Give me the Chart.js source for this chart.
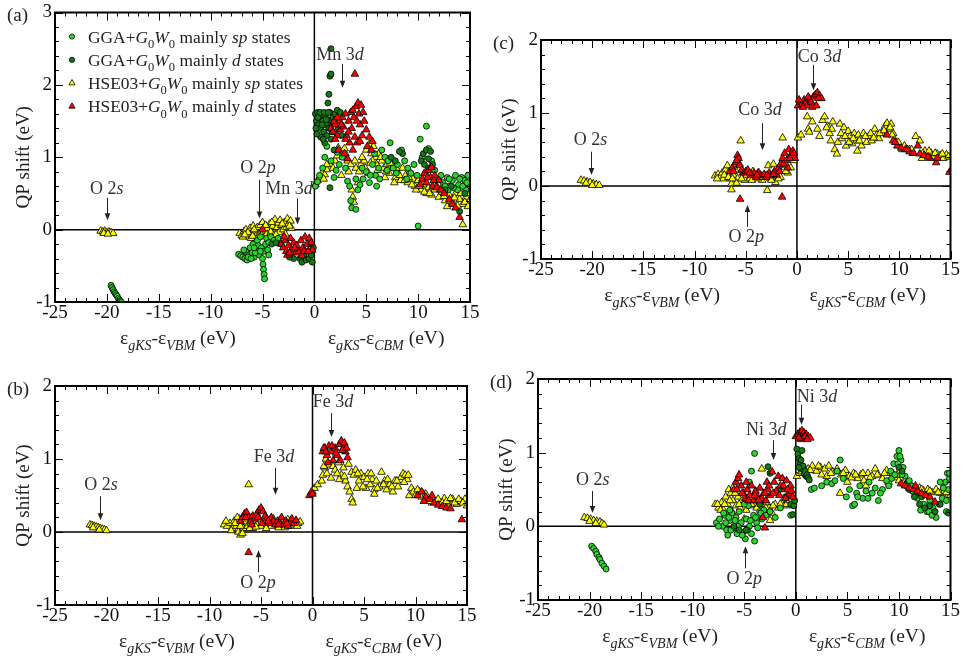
<!DOCTYPE html>
<html>
<head>
<meta charset="utf-8">
<script src="https://cdn.jsdelivr.net/npm/chart.js@4.4.0/dist/chart.umd.min.js"></script>
<style>
  html, body { margin: 0; padding: 0; background: #fff; }
  #wrap { position: relative; width: 962px; height: 661px; overflow: hidden; }
  #wrap canvas { position: absolute; left: 0; top: 0; }
</style>
</head>
<body>
<div id="wrap">
  <canvas id="pa" width="962" height="661"></canvas>
  <canvas id="pb" width="962" height="661"></canvas>
  <canvas id="pc" width="962" height="661"></canvas>
  <canvas id="pd" width="962" height="661"></canvas>
</div>
<script>
// ---- axis ticks (shared by all panels) ----
const xTicks = [-25, -20, -15, -10, -5, 0, 5, 10, 15];
const yTicksA = [-1, 0, 1, 2, 3];
const yTicksBCD = [-1, 0, 1, 2];

// ---- (a) MnO ----
const aGgaSp = [
  [-19.6,-0.77],[-19.5,-0.8],[-19.4,-0.83],[-19.3,-0.86],[-19.2,-0.88],[-19.1,-0.9],[-19.0,-0.92],[-18.9,-0.95],[-18.8,-0.97],[-18.7,-0.99],[-18.6,-1.0],
  [-7.3,-0.34],[-7.1,-0.36],[-6.9,-0.38],[-6.7,-0.4],[-6.5,-0.42],[-6.6,-0.3],[-6.3,-0.35],[-6.2,-0.25],[-6.0,-0.32],[-5.9,-0.2],[-5.8,-0.38],[-5.6,-0.28],
  [-5.5,-0.15],[-5.4,-0.22],[-5.3,-0.35],[-5.2,-0.1],[-5.1,-0.25],[-5.0,-0.4],[-4.95,-0.48],[-4.9,-0.55],[-4.85,-0.62],[-4.8,-0.68],[-4.9,-0.3],[-4.7,-0.2],
  [-4.6,-0.12],[-4.4,-0.18],[-4.2,-0.1],[-3.9,-0.15],[-3.5,-0.12],[-3.2,-0.2],[-6.8,-0.28],[-4.5,-0.28],
  [-6.4,-0.38],[-5.7,-0.32],[-5.2,-0.3],[-4.4,-0.35],[-5.8,-0.25],[-6.1,-0.4],
  [0.1,0.6],[0.3,0.66],[0.8,0.85],[1.0,1.0],[1.2,1.15],[1.6,0.95],[1.9,0.72],[2.1,0.82],[2.4,0.9],[2.7,1.0],[3.0,0.85],[3.2,0.67],[3.4,0.6],[3.5,0.4],
  [3.6,0.3],[4.0,0.28],[4.2,0.55],[4.0,0.7],[4.4,0.62],[4.7,0.7],[5.0,0.8],[5.3,0.65],[5.6,0.9],[5.9,0.75],[6.2,0.85],[6.5,1.1],[6.8,1.0],[7.1,0.95],
  [7.3,1.2],[7.6,0.85],[8.0,0.9],[8.4,1.1],[8.7,0.95],[9.0,0.85],[9.3,0.78],[9.6,0.9],[10.0,0.05],[10.2,1.25],[10.4,1.0],[10.8,1.43],[11.0,1.12],[11.3,0.95],
  [11.6,0.82],[12.0,0.7],[12.4,0.65],[12.8,0.72],[13.0,0.6],[13.3,0.68],[13.6,0.75],[13.9,0.62],[14.2,0.72],[14.5,0.68],[14.8,0.75],[14.9,0.6],[14.6,0.55],
  [13.8,0.55],[12.9,0.55],[2.2,1.07],[0.5,0.75],[6.0,0.6],[4.6,0.85],[5.8,1.05],
  [13.0,0.7],[13.4,0.58],[14.0,0.7],[14.3,0.6],[14.7,0.65],[12.6,0.6],[12.2,0.75],[7.0,0.82],[7.9,0.78],[8.9,0.7],[9.9,0.75],[6.3,0.7],[5.4,0.75]
];
const aGgaD = [
  [-4.1,-0.2],[-3.7,-0.18],[-1.6,-0.3],[-1.4,-0.4],[-1.2,-0.45],[-1.0,-0.35],[-0.8,-0.42],[-0.6,-0.3],[-0.5,-0.4],[-0.3,-0.35],[-0.2,-0.45],[-0.4,-0.2],
  [-0.1,-0.25],[-2.0,-0.4],[-2.4,-0.38],
  [0.1,1.6],[0.2,1.5],[0.3,1.62],[0.4,1.45],[0.5,1.55],[0.6,1.4],[0.7,1.6],[0.8,1.5],[0.9,1.35],[1.0,1.58],[1.1,1.45],[1.2,1.3],[1.3,1.52],[1.4,1.4],
  [1.5,1.62],[1.6,1.25],[1.7,1.48],[1.8,1.55],[2.0,1.6],[2.2,1.65],[2.4,1.5],[2.5,1.62],[1.0,1.2],[0.6,1.28],[1.3,1.75],[1.4,1.87],[1.5,2.12],[1.6,2.15],
  [1.6,2.5],[1.5,0.58],[1.9,1.1],[2.6,1.3],
  [0.15,1.4],[0.35,1.55],[0.55,1.62],[0.75,1.45],[0.95,1.62],[1.15,1.52],[1.35,1.62],[1.75,1.35],[2.1,1.5],[2.3,1.4],[0.25,1.32],[0.85,1.25],
  [10.3,0.95],[10.5,1.05],[10.6,0.9],[10.8,1.1],[11.0,0.98],[11.2,1.08],[11.0,0.85],[10.7,0.78],[11.4,0.9],[14.0,0.25],[12.6,0.55],[13.2,0.6],[14.5,0.5],
  [8.5,1.05],[7.4,1.0],[7.8,0.95],[8.2,1.08]
];
const aHseSp = [
  [-20.6,-0.02],[-20.4,-0.03],[-20.2,-0.02],[-20.0,-0.04],[-19.8,-0.03],[-19.6,-0.04],[-19.4,-0.05],[-20.3,-0.05],[-19.9,-0.06],
  [-7.2,-0.05],[-7.0,-0.08],[-6.8,-0.03],[-6.6,0.0],[-6.5,-0.06],[-6.3,-0.1],[-6.2,0.02],[-6.0,-0.04],[-5.9,0.05],[-5.7,-0.02],[-5.6,-0.08],[-5.5,0.03],
  [-5.3,-0.05],[-5.2,0.06],[-5.0,0.1],[-4.9,-0.02],[-4.8,0.04],[-4.6,-0.06],[-4.5,0.02],[-4.3,0.08],[-4.2,-0.03],[-4.0,0.05],[-3.9,-0.08],[-3.8,0.14],
  [-3.6,0.03],[-3.5,0.09],[-3.4,-0.04],[-3.3,0.13],[-3.2,0.06],[-3.0,0.0],[-2.9,0.1],[-2.7,0.03],[-2.6,0.15],[-2.5,0.08],[-2.3,0.12],[-2.2,0.02],
  [-6.1,-0.12],[-5.4,-0.1],[-4.4,-0.1],[-3.7,-0.07],[-2.8,-0.06],
  [-6.9,-0.1],[-6.4,-0.04],[-5.8,0.0],[-5.1,-0.08],[-4.7,0.06],[-4.1,0.1],[-3.1,0.08],[-2.4,0.05],[-6.7,-0.07],[-5.95,-0.09],
  [0.1,0.62],[0.3,0.68],[0.5,0.72],[0.8,0.8],[1.0,0.76],[1.2,0.83],[1.5,0.9],[1.8,0.85],[2.0,0.95],[2.2,1.02],[2.5,1.08],[2.3,1.13],[2.8,1.0],[3.0,1.05],
  [3.2,0.95],[3.5,0.9],[3.7,0.45],[3.8,0.38],[3.6,0.55],[4.0,0.85],[4.3,0.8],[4.5,0.9],[4.8,0.95],[5.0,1.1],[5.3,1.18],[5.5,1.05],[5.7,1.15],[5.9,1.0],
  [6.0,0.9],[6.2,1.05],[6.5,0.95],[6.7,0.85],[7.0,0.9],[7.2,0.78],[7.5,0.85],[7.8,0.72],[8.0,0.8],[8.3,0.68],[8.5,0.85],[8.8,0.75],[9.0,0.65],[9.2,0.8],
  [9.5,0.7],[9.7,0.6],[10.0,0.68],[10.3,0.55],[10.5,0.62],[10.8,0.5],[11.0,0.58],[11.3,0.48],[11.6,0.55],[12.0,0.45],[12.3,0.52],[12.6,0.4],[13.0,0.48],
  [13.3,0.38],[13.6,0.5],[14.0,0.42],[14.3,0.35],[14.6,0.45],[14.9,0.38],[14.3,0.07],[12.8,0.32],[11.8,0.6],[6.8,0.72],[5.2,0.78],[4.2,0.65],[3.3,0.8],
  [2.6,0.75],[1.2,0.9],[0.9,0.7],[7.7,0.65],[9.8,0.55],[13.8,0.33],[14.7,0.5],
  [5.6,0.95],[6.1,0.82],[6.4,1.0],[6.9,0.8],[7.3,0.92],[7.9,0.85],[8.2,0.75],[8.7,0.68],[9.1,0.72],[9.4,0.62],[10.1,0.6],[10.6,0.52],[11.1,0.5],[11.5,0.62],
  [12.1,0.55],[12.5,0.46],[13.1,0.4],[13.5,0.44],[14.1,0.5],[14.5,0.38],[14.8,0.32],[4.6,1.0],[4.9,0.85],[5.4,0.92],[3.9,0.95],[2.9,1.12]
];
const aHseD = [
  [-3.2,-0.2],[-3.0,-0.25],[-2.8,-0.15],[-2.7,-0.3],[-2.5,-0.22],[-2.3,-0.12],[-2.2,-0.28],[-2.0,-0.18],[-1.8,-0.32],[-1.7,-0.22],[-1.5,-0.3],[-1.3,-0.15],
  [-1.1,-0.25],[-0.9,-0.1],[-0.7,-0.2],[-0.5,-0.12],[-0.3,-0.18],[-0.2,-0.28],[-2.6,-0.35],[-1.2,-0.36],[-5.0,0.0],
  [-2.9,-0.1],[-1.9,-0.25],[-1.0,-0.3],[-0.6,-0.3],[-2.4,-0.32],
  [1.6,1.4],[1.8,1.35],[2.0,1.45],[2.2,1.3],[2.4,1.5],[2.5,1.38],[2.7,1.55],[2.8,1.42],[3.0,1.6],[3.1,1.3],[3.3,1.5],[3.4,1.2],[3.5,1.62],[3.6,1.4],
  [3.8,1.55],[3.9,1.28],[4.0,1.7],[4.2,1.75],[4.3,1.6],[4.4,1.45],[4.5,1.72],[4.6,1.3],[4.8,1.5],[5.0,1.38],[5.1,1.15],[5.3,1.28],[5.5,1.1],[2.3,1.1],
  [2.9,1.05],[3.2,0.98],[3.7,1.1],[4.1,1.2],[2.0,1.25],[3.9,2.15],[5.6,1.22],
  [1.9,1.5],[2.6,1.45],[3.3,1.35],[3.7,1.65],[4.1,1.5],[4.7,1.62],[2.2,1.55],[3.0,1.25],[4.4,1.22],
  [10.2,0.62],[10.4,0.7],[10.6,0.78],[10.8,0.65],[11.0,0.82],[11.2,0.72],[11.4,0.6],[11.6,0.75],[11.8,0.58],[12.0,0.68],[12.2,0.55],[12.5,0.5],[13.0,0.42],
  [13.3,0.35],[13.6,0.3],[14.0,0.17],[11.3,0.86],[10.9,0.72],[11.5,0.68]
];

// ---- (b) FeO ----
const bHseSp = [
  [-21.6,0.1],[-21.4,0.09],[-21.2,0.08],[-21.0,0.07],[-20.8,0.06],[-20.6,0.05],[-20.4,0.04],[-20.2,0.03],[-20.0,0.02],[-21.3,0.06],[-20.7,0.03],
  [-8.6,0.1],[-8.3,0.08],[-8.0,0.12],[-7.8,0.05],[-7.6,0.15],[-7.4,0.08],[-7.2,0.0],[-7.0,-0.04],[-7.1,0.18],[-6.9,0.1],[-6.7,0.05],[-6.5,0.14],[-6.3,0.08],
  [-6.2,0.65],[-6.0,0.12],[-5.8,0.05],[-5.6,0.15],[-5.4,0.1],[-5.2,0.18],[-5.0,0.08],[-4.8,0.12],[-4.6,0.16],[-4.4,0.1],[-4.2,0.15],[-4.0,0.08],[-3.8,0.18],
  [-3.6,0.12],[-3.4,0.1],[-3.2,0.16],[-3.0,0.09],[-2.8,0.14],[-2.6,0.1],[-2.4,0.17],[-2.2,0.08],[-2.0,0.13],[-1.8,0.1],[-1.6,0.15],[-1.4,0.12],[-1.2,0.14],
  [-6.8,-0.02],[-7.3,0.2],[-5.9,0.2],
  [-8.4,0.15],[-7.9,0.02],[-7.5,0.12],[-6.6,0.18],[-6.1,0.05],[-5.5,0.07],[-4.5,0.05],[-3.9,0.12],[-3.3,0.06],[-2.7,0.06],[-2.1,0.16],[-1.5,0.08],[-7.0,0.08],
  [0.0,0.55],[0.2,0.6],[0.5,0.65],[0.9,0.7],[1.0,0.78],[1.2,0.88],[1.4,0.8],[1.6,0.92],[1.8,0.74],[2.0,0.9],[2.2,0.85],[2.5,0.95],[2.8,0.78],[3.0,0.88],
  [3.2,0.7],[3.4,0.62],[3.6,0.55],[3.8,0.45],[3.9,0.4],[3.5,0.93],[3.8,0.82],[4.0,0.78],[4.2,0.85],[4.5,0.7],[4.7,0.8],[5.0,0.75],[5.2,0.6],[5.4,0.8],
  [5.6,0.65],[5.8,0.72],[6.0,0.58],[6.2,0.7],[6.5,0.62],[6.7,0.82],[7.0,0.7],[7.2,0.58],[7.5,0.65],[7.8,0.55],[8.0,0.7],[8.3,0.62],[8.6,0.75],[8.8,0.8],
  [9.0,0.78],[9.2,0.72],[9.4,0.5],[9.6,0.6],[9.8,0.55],[10.0,0.5],[10.4,0.55],[10.8,0.52],[11.2,0.45],[11.6,0.4],[12.0,0.42],[12.4,0.38],[12.8,0.46],
  [13.2,0.4],[13.6,0.45],[14.0,0.38],[14.4,0.42],[14.8,0.45],[15.0,0.36],[6.0,0.52],[4.3,0.6],[2.6,0.72],[1.3,1.0],
  [4.4,0.8],[4.9,0.62],[5.3,0.72],[5.7,0.8],[6.3,0.6],[6.9,0.65],[7.3,0.72],[7.7,0.62],[8.2,0.7],[8.9,0.68],[9.3,0.78],[10.2,0.58],[10.6,0.48],[11.0,0.52],
  [11.4,0.42],[12.2,0.45],[12.6,0.4],[13.0,0.42],[13.4,0.46],[13.8,0.4],[14.2,0.45],[14.6,0.4],[1.1,0.9],[2.4,0.8],[3.1,0.76]
];
const bHseD = [
  [-7.0,0.15],[-6.8,0.2],[-6.6,0.25],[-6.4,0.27],[-6.2,0.2],[-6.0,0.15],[-5.8,0.22],[-5.6,0.18],[-5.4,0.25],[-5.2,0.3],[-5.0,0.33],[-4.8,0.28],[-4.6,0.22],
  [-4.4,0.18],[-4.2,0.12],[-4.0,0.2],[-3.8,0.15],[-3.6,0.1],[-3.4,0.15],[-3.2,0.12],[-3.0,0.2],[-2.8,0.1],[-2.6,0.15],[-2.4,0.08],[-2.2,0.12],[-2.0,0.18],
  [-1.8,0.12],[-1.6,0.16],[-6.2,-0.28],[-5.9,0.1],[-4.9,0.12],[-6.5,0.2],[-5.3,0.2],[-4.3,0.15],[-3.3,0.1],[-2.5,0.12],
  [-0.3,0.5],[-0.1,0.55],[0.0,0.52],[1.0,1.1],[1.2,1.15],[1.4,1.05],[1.6,1.18],[1.8,1.1],[2.0,0.98],[2.2,1.15],[2.4,1.05],[2.6,1.2],[2.8,1.25],[3.0,1.15],
  [3.2,1.1],[3.4,1.02],[2.7,0.98],[1.5,0.95],[3.1,1.22],[1.1,1.15],[1.3,1.1],[1.9,1.18],[2.3,1.08],[2.9,1.12],[3.3,1.15],
  [10.2,0.5],[10.6,0.55],[11.0,0.48],[11.4,0.45],[11.8,0.4],[12.2,0.37],[12.6,0.35],[13.0,0.33],[13.4,0.32],[14.5,0.17],[10.8,0.42],[11.6,0.5]
];

// ---- (c) CoO ----
const cHseSp = [
  [-21.1,0.08],[-20.8,0.07],[-20.5,0.06],[-20.2,0.05],[-19.9,0.03],[-19.6,0.02],[-19.3,0.01],[-20.6,0.04],[-20.0,0.01],
  [-8.0,0.14],[-7.7,0.16],[-7.5,0.12],[-7.3,0.18],[-7.0,0.22],[-6.8,0.28],[-6.6,0.2],[-6.5,0.1],[-6.4,0.03],[-6.4,-0.05],[-6.2,0.15],[-6.0,0.22],[-5.8,0.1],
  [-5.6,0.3],[-5.5,0.62],[-5.3,0.18],[-5.1,0.08],[-4.9,0.15],[-4.6,0.1],[-4.3,0.2],[-4.0,0.12],[-3.7,0.18],[-3.4,0.08],[-3.1,0.14],[-2.9,-0.06],[-2.8,0.28],
  [-2.6,0.1],[-2.3,0.3],[-2.1,0.05],[-1.9,0.2],[-1.6,0.12],[-1.4,0.66],[-1.2,0.28],[-0.9,0.18],[-0.6,0.25],[-0.3,0.35],[-7.2,0.1],[-5.9,0.04],
  [-7.8,0.1],[-7.1,0.15],[-6.7,0.12],[-6.3,0.1],[-5.4,0.1],[-4.4,0.08],[-3.8,0.1],[-3.3,0.12],[-2.5,0.08],[-1.8,0.1],[-1.1,0.2],
  [0.1,0.66],[0.4,0.7],[1.0,0.95],[1.1,0.78],[1.2,0.74],[1.5,0.88],[2.0,0.78],[2.5,0.9],[2.7,0.95],[3.0,0.82],[3.2,0.72],[3.5,0.88],[3.7,0.5],[3.9,0.44],
  [4.0,0.6],[4.2,0.85],[4.4,0.65],[4.6,0.8],[4.8,0.55],[5.0,0.75],[5.2,0.68],[5.4,0.58],[5.6,0.72],[5.8,0.62],[6.0,0.7],[6.3,0.55],[6.5,0.72],[6.8,0.6],
  [7.0,0.68],[7.3,0.62],[7.6,0.78],[7.8,0.7],[8.0,0.65],[8.3,0.72],[8.6,0.82],[8.8,0.86],[9.0,0.78],[9.2,0.85],[9.4,0.72],[9.7,0.6],[10.0,0.55],[10.3,0.5],
  [10.6,0.52],[11.0,0.5],[11.3,0.45],[11.6,0.68],[12.0,0.62],[12.2,0.38],[12.5,0.48],[12.8,0.42],[13.1,0.45],[13.4,0.4],[13.7,0.44],[14.0,0.42],[14.3,0.38],
  [14.6,0.43],[15.0,0.4],[2.2,0.68],[5.9,0.48],[3.3,0.62],
  [4.3,0.72],[4.7,0.68],[5.1,0.6],[5.5,0.65],[6.1,0.62],[6.7,0.68],[7.2,0.72],[7.5,0.66],[8.1,0.72],[8.5,0.76],[9.1,0.8],[9.3,0.7],[9.9,0.6],[10.5,0.55],
  [11.2,0.5],[12.3,0.45],[12.9,0.48],[13.5,0.45],[14.2,0.44],[14.8,0.4],[3.4,0.78],[2.9,0.8]
];
const cHseD = [
  [-6.5,0.2],[-6.3,0.25],[-6.0,0.32],[-5.8,0.42],[-5.7,0.38],[-5.6,0.28],[-5.4,0.22],[-5.2,0.18],[-5.0,0.2],[-4.8,0.22],[-4.5,0.15],[-4.2,0.18],[-4.0,0.12],
  [-3.8,0.18],[-3.5,0.14],[-3.2,0.16],[-3.0,0.12],[-2.7,0.18],[-2.5,0.14],[-2.2,0.2],[-2.0,0.15],[-1.8,0.25],[-1.6,0.3],[-1.4,0.38],[-1.2,0.45],[-1.0,0.35],
  [-0.8,0.5],[-0.6,0.42],[-0.4,0.48],[-0.2,0.38],[-5.55,-0.18],[-1.45,-0.15],[-0.9,0.25],[-1.7,0.2],
  [-6.2,0.2],[-5.9,0.35],[-4.6,0.18],[-3.9,0.15],[-2.9,0.15],[-2.3,0.16],[-1.3,0.3],[-0.7,0.38],[-0.3,0.45],
  [0.1,1.1],[0.3,1.15],[0.5,1.12],[0.7,1.18],[0.9,1.15],[1.0,1.1],[1.2,1.2],[1.4,1.15],[1.5,1.08],[1.6,1.22],[1.8,1.25],[2.0,1.28],[2.2,1.24],[2.4,1.2],
  [1.9,1.1],[0.2,1.18],[0.6,1.08],[1.1,1.22],[2.1,1.2],
  [8.8,0.7],[9.4,0.62],[9.8,0.55],[10.2,0.52],[10.6,0.5],[11.0,0.47],[11.4,0.45],[11.8,0.55],[12.0,0.44],[12.4,0.42],[13.0,0.38],[13.6,0.32],[13.7,0.38],
  [14.9,0.19],[9.6,0.6],[10.8,0.5],[12.8,0.4]
];

// ---- (d) NiO ----
const dGgaSp = [
  [-19.8,-0.27],[-19.6,-0.3],[-19.4,-0.34],[-19.3,-0.38],[-19.1,-0.42],[-19.0,-0.45],[-18.8,-0.5],[-18.6,-0.54],[-18.4,-0.58],
  [-7.7,0.05],[-7.4,0.1],[-7.1,0.0],[-6.9,0.15],[-6.7,-0.05],[-6.6,-0.12],[-6.4,0.08],[-6.2,0.18],[-6.0,-0.02],[-5.8,0.12],[-5.7,-0.1],[-5.5,0.2],[-5.3,0.05],
  [-5.1,-0.08],[-4.9,-0.17],[-4.8,0.1],[-4.6,0.28],[-4.5,0.0],[-4.3,-0.1],[-4.1,0.15],[-4.0,0.99],[-4.3,0.75],[-4.0,-0.2],[-3.8,0.05],[-3.6,0.35],[-3.5,0.2],
  [-3.3,0.1],[-3.1,0.22],[-2.9,0.15],[-2.5,0.2],[-2.0,0.12],[-1.5,0.25],[-0.5,0.15],[-4.5,0.6],[-5.0,0.3],[-6.4,0.22],[-7.0,0.18],
  [-7.5,0.0],[-6.8,0.05],[-6.3,-0.05],[-5.9,0.08],[-5.6,0.0],[-5.2,-0.12],[-4.7,-0.05],[-4.4,0.08],[-3.9,0.12],[-3.7,-0.02],[-3.4,0.18],[-6.5,0.12],
  [1.5,0.5],[1.8,0.52],[2.5,0.55],[3.0,0.6],[3.5,0.58],[4.0,0.75],[4.3,0.9],[4.6,0.65],[4.9,0.4],[5.2,0.5],[5.5,0.28],[5.7,0.3],[5.9,0.45],[6.2,0.55],
  [6.5,0.38],[6.8,0.48],[7.1,0.6],[7.4,0.45],[7.7,0.52],[8.0,0.35],[8.4,0.5],[8.8,0.62],[9.2,0.75],[9.5,0.85],[9.8,0.95],[10.0,1.03],[10.2,0.9],[10.4,0.8],
  [10.6,0.68],[10.9,0.6],[11.2,0.55],[11.5,0.45],[11.8,0.38],[12.1,0.22],[12.4,0.3],[12.7,0.2],[13.0,0.35],[13.3,0.25],[13.6,0.12],[13.9,0.3],[14.2,0.38],
  [14.5,0.6],[14.7,0.72],[14.9,0.65],[14.8,0.5],[14.6,0.2],[14.0,0.6],[9.0,0.55],[3.8,0.62],
  [9.3,0.65],[9.6,0.7],[9.9,0.85],[10.1,0.95],[10.3,0.7],[10.7,0.55],[11.0,0.62],[11.3,0.48],[12.0,0.45],[12.9,0.2],[13.2,0.15],[14.3,0.52],[14.6,0.35],
  [14.9,0.72],[6.0,0.4],[7.0,0.38],[8.2,0.45]
];
const dGgaD = [
  [-2.7,0.81],[-2.5,0.72],[-1.6,0.5],[-1.0,0.4],[-0.5,0.3],[-0.2,0.28],[-0.1,0.35],[-3.5,0.3],[-0.3,0.16],[-6.0,0.0],[-5.5,-0.05],[-4.8,-0.05],
  [0.1,1.05],[0.2,0.98],[0.3,0.92],[0.4,0.85],[0.5,0.9],[0.6,0.78],[0.7,0.82],[0.8,0.72],[0.9,0.75],[1.0,0.68],[1.1,0.7],[1.2,0.66],[0.6,1.03],[0.3,0.8],
  [1.3,0.63],[10.0,0.8],[10.3,0.75],[11.0,0.5],[11.5,0.4],[12.0,0.3],[12.5,0.25],[13.0,0.28],[13.5,0.2],[14.0,0.3],[14.8,0.18],[12.2,0.4]
];
const dHseSp = [
  [-20.5,0.12],[-20.2,0.11],[-19.9,0.1],[-19.6,0.08],[-19.3,0.07],[-19.0,0.06],[-18.8,0.04],[-18.6,0.02],[-20.0,0.07],[-19.4,0.04],
  [-7.8,0.3],[-7.5,0.25],[-7.2,0.32],[-7.0,0.22],[-6.8,0.4],[-6.6,0.3],[-6.5,0.5],[-6.3,0.45],[-6.1,0.35],[-6.0,0.55],[-5.8,0.28],[-5.6,0.4],[-5.4,0.25],
  [-5.2,0.35],[-5.0,0.3],[-4.8,0.22],[-4.6,0.35],[-4.4,0.28],[-4.2,0.4],[-4.0,0.3],[-3.8,0.25],[-3.6,0.35],[-3.3,0.78],[-3.2,0.28],[-3.0,0.2],[-2.8,0.32],
  [-2.6,0.25],[-2.3,0.18],[-2.0,0.3],[-1.7,0.25],[-1.4,0.32],[-1.1,0.28],[-0.8,0.35],[-0.5,0.3],[-0.3,0.28],[-5.0,0.1],[-6.2,0.2],[-2.5,0.08],
  [-7.6,0.3],[-7.3,0.22],[-6.9,0.3],[-6.4,0.35],[-5.9,0.45],[-5.5,0.3],[-4.9,0.35],[-4.3,0.3],[-3.9,0.35],[-3.4,0.3],[-2.9,0.25],[-2.2,0.28],[-1.5,0.3],
  [-0.9,0.3],[-0.6,0.35],
  [0.1,0.68],[0.4,0.72],[0.8,0.8],[1.2,0.78],[1.6,0.82],[2.0,0.75],[2.4,0.8],[2.8,0.78],[3.2,0.82],[3.6,0.74],[4.0,0.78],[4.3,0.45],[4.4,0.7],[4.8,0.76],
  [5.2,0.68],[5.6,0.72],[6.0,0.65],[6.3,0.7],[6.6,0.62],[7.0,0.72],[7.4,0.68],[7.7,0.78],[8.0,0.7],[8.4,0.65],[8.8,0.76],[9.2,0.72],[9.6,0.66],[10.0,0.62],
  [10.4,0.58],[10.8,0.6],[11.2,0.55],[11.6,0.5],[12.0,0.52],[12.4,0.48],[12.8,0.5],[13.2,0.46],[13.6,0.5],[14.0,0.45],[14.4,0.48],[14.8,0.44],[15.0,0.42],
  [5.0,0.6],[3.0,0.68],[9.0,0.6],[6.8,0.55],[2.5,0.7],[1.0,0.7],
  [0.6,0.74],[1.4,0.76],[2.2,0.82],[3.4,0.72],[4.6,0.72],[5.4,0.66],[5.8,0.7],[6.5,0.72],[7.2,0.66],[7.9,0.7],[8.6,0.72],[9.4,0.72],[9.8,0.7],[10.6,0.56],
  [11.4,0.52],[12.2,0.5],[13.0,0.48],[13.8,0.46],[14.6,0.46]
];
const dHseD = [
  [-6.0,0.5],[-5.8,0.6],[-5.6,0.65],[-5.5,0.7],[-5.3,0.55],[-5.1,0.45],[-4.9,0.38],[-4.7,0.5],[-4.5,0.42],[-4.3,0.55],[-4.1,0.35],[-3.9,0.48],[-3.7,0.4],
  [-3.5,0.52],[-3.3,0.38],[-3.1,0.45],[-2.9,0.35],[-2.7,0.5],[-2.5,0.42],[-2.3,0.74],[-2.1,0.6],[-1.9,0.48],[-1.7,0.68],[-1.5,0.55],[-1.3,0.65],[-1.1,0.5],
  [-0.9,0.62],[-0.7,0.45],[-0.5,0.55],[-0.3,0.4],[-3.2,0.12],[-3.0,-0.02],[-2.8,0.6],[-4.8,0.6],[-1.0,0.38],
  [-5.7,0.5],[-5.2,0.45],[-4.6,0.35],[-4.0,0.42],[-3.6,0.35],[-3.0,0.45],[-2.6,0.55],[-2.2,0.45],[-1.6,0.42],[-1.2,0.55],[-0.8,0.5],[-0.4,0.48],
  [0.0,1.22],[0.2,1.25],[0.4,1.28],[0.6,1.3],[0.8,1.27],[1.0,1.25],[1.2,1.22],[1.4,1.2],[0.5,1.18],[0.7,1.2],[0.3,1.2],[0.9,1.22],[1.1,1.18],
  [10.2,0.58],[10.6,0.55],[11.0,0.52],[11.4,0.5],[11.8,0.48],[12.2,0.45],[12.6,0.42],[13.0,0.4],[13.5,0.33],[11.6,0.55]
];

const FONT = '"Liberation Serif", "Times New Roman", serif';
const C_SP = '#2ad42a', C_D = '#137a13', C_YEL = '#ffff00', C_RED = '#ff0000';

// draw a run of text pieces: '' normal, 'i' italic, 'sub' subscript, 'subi' italic subscript
function rich(ctx, parts, x, y, size, align) {
  const runs = parts.map(([t, s]) => {
    const sub = s.indexOf('sub') === 0;
    const it = s === 'i' || s === 'subi';
    const sz = sub ? size * 0.72 : size;
    return { t, font: (it ? 'italic ' : '') + sz + 'px ' + FONT, dy: sub ? size * 0.3 : 0 };
  });
  let w = 0;
  runs.forEach(r => { ctx.font = r.font; r.w = ctx.measureText(r.t).width; w += r.w; });
  let cx = align === 'center' ? x - w / 2 : (align === 'right' ? x - w : x);
  ctx.textAlign = 'left';
  ctx.textBaseline = 'alphabetic';
  runs.forEach(r => { ctx.font = r.font; ctx.fillText(r.t, cx, y + r.dy); cx += r.w; });
}

const sub0 = [['G', 'i'], ['0', 'sub'], ['W', 'i'], ['0', 'sub']];
const legendRows = [
  { style: 'circle', color: C_SP, text: [['GGA+', '']].concat(sub0, [[' mainly ', ''], ['sp', 'i'], [' states', '']]) },
  { style: 'circle', color: C_D, text: [['GGA+', '']].concat(sub0, [[' mainly ', ''], ['d', 'i'], [' states', '']]) },
  { style: 'triangle', color: C_YEL, text: [['HSE03+', '']].concat(sub0, [[' mainly ', ''], ['sp', 'i'], [' states', '']]) },
  { style: 'triangle', color: C_RED, text: [['HSE03+', '']].concat(sub0, [[' mainly ', ''], ['d', 'i'], [' states', '']]) }
];

const panelDecor = {
  id: 'panel',
  beforeDatasetsDraw(chart) {
    const { ctx, chartArea: a, scales: { x, y } } = chart;
    const x0 = x.getPixelForValue(0), y0 = y.getPixelForValue(0);
    ctx.save();
    ctx.strokeStyle = '#000';
    ctx.lineWidth = 1.5;
    ctx.beginPath();
    ctx.moveTo(a.left, y0); ctx.lineTo(a.right, y0);
    ctx.moveTo(x0, a.top); ctx.lineTo(x0, a.bottom);
    ctx.stroke();
    ctx.restore();
  },
  afterDraw(chart, args, o) {
    const { ctx, chartArea: a, scales: { x, y } } = chart;
    ctx.save();
    // frame
    ctx.strokeStyle = '#000';
    ctx.lineWidth = 2;
    ctx.strokeRect(a.left, a.top, a.right - a.left, a.bottom - a.top);
    // inward ticks on all four sides
    ctx.lineWidth = 1;
    ctx.beginPath();
    for (let v = x.min; v <= x.max; v += 1) {
      const px = Math.round(x.getPixelForValue(v)) + 0.5;
      const len = v % 5 === 0 ? 8 : 4;
      ctx.moveTo(px, a.bottom); ctx.lineTo(px, a.bottom - len);
      ctx.moveTo(px, a.top); ctx.lineTo(px, a.top + len);
    }
    for (let k = 0; k <= (y.max - y.min) * 5; k++) {
      const v = y.min + k * 0.2;
      const py = Math.round(y.getPixelForValue(v)) + 0.5;
      const len = k % 5 === 0 ? 8 : 4;
      ctx.moveTo(a.left, py); ctx.lineTo(a.left + len, py);
      ctx.moveTo(a.right, py); ctx.lineTo(a.right - len, py);
    }
    ctx.stroke();

    // annotations with arrows
    ctx.fillStyle = '#333';
    ctx.strokeStyle = '#222';
    (o.notes || []).forEach(n => {
      rich(ctx, n.t, x.getPixelForValue(n.x), y.getPixelForValue(n.y) + 6, 18, 'center');
      const ax = Math.round(x.getPixelForValue(n.ax)) + 0.5;
      const p1 = y.getPixelForValue(n.y1), p2 = y.getPixelForValue(n.y2);
      const dir = p2 > p1 ? 1 : -1;
      ctx.beginPath();
      ctx.moveTo(ax, p1); ctx.lineTo(ax, p2 - dir * 4);
      ctx.stroke();
      ctx.beginPath();
      ctx.moveTo(ax, p2); ctx.lineTo(ax - 2.8, p2 - dir * 7); ctx.lineTo(ax + 2.8, p2 - dir * 7);
      ctx.closePath();
      ctx.fillStyle = '#222';
      ctx.fill();
      ctx.fillStyle = '#333';
    });

    // legend (panel a only)
    if (o.legend) {
      legendRows.forEach((r, i) => {
        const ry = a.top + 24 + i * 23.3;
        ctx.fillStyle = r.color;
        ctx.strokeStyle = '#000';
        ctx.lineWidth = 0.8;
        Chart.helpers.drawPoint(ctx, { pointStyle: r.style, radius: r.style === 'circle' ? 2.6 : 3.6, rotation: 0, borderWidth: 0.8 }, a.left + 17, ry);
        ctx.fillStyle = '#222';
        rich(ctx, r.text, a.left + 33, ry + 6, 17.4, 'left');
      });
    }

    // panel letter
    ctx.fillStyle = '#222';
    ctx.font = '19px ' + FONT;
    ctx.textAlign = 'left';
    ctx.textBaseline = 'middle';
    ctx.fillText(o.letter, a.left - 48, a.top + 4);

    // y title
    ctx.save();
    ctx.translate(a.left - 31, (a.top + a.bottom) / 2);
    ctx.rotate(-Math.PI / 2);
    ctx.textAlign = 'center';
    ctx.textBaseline = 'middle';
    ctx.font = '19px ' + FONT;
    ctx.fillText('QP shift (eV)', 0, 0);
    ctx.restore();

    // x titles
    const w = a.right - a.left;
    rich(ctx, [['ε', ''], ['gKS', 'subi'], ['-ε', ''], ['VBM', 'subi'], [' (eV)', '']], a.left + w * 0.296, a.bottom + 42, 19.5, 'center');
    rich(ctx, [['ε', ''], ['gKS', 'subi'], ['-ε', ''], ['CBM', 'subi'], [' (eV)', '']], a.left + w * 0.798, a.bottom + 42, 19.5, 'center');
    ctx.restore();
  }
};

function series(pts, kind) {
  const s = {
    sp: { style: 'circle', r: 3, color: C_SP, order: 3 },
    d: { style: 'circle', r: 3, color: C_D, order: 2 },
    ysp: { style: 'triangle', r: 4.4, color: C_YEL, order: 4 },
    rd: { style: 'triangle', r: 4.4, color: C_RED, order: 1 }
  }[kind];
  return {
    data: pts.map(p => ({ x: p[0], y: p[1] })),
    pointStyle: s.style,
    pointRadius: s.r,
    pointBackgroundColor: s.color,
    pointBorderColor: '#000',
    pointBorderWidth: 0.8,
    order: s.order
  };
}

function makePanel(id, box, yTicks, sets, extra) {
  const [L, T, R, B] = box;
  new Chart(document.getElementById(id), {
    type: 'scatter',
    data: { datasets: sets },
    options: {
      responsive: false,
      animation: false,
      events: [],
      layout: { padding: { left: L - 40, top: T, right: 962 - R, bottom: 661 - B - 30 } },
      scales: {
        x: {
          type: 'linear', min: xTicks[0], max: xTicks[xTicks.length - 1],
          afterFit: s => { s.height = 30; },
          afterBuildTicks: s => { s.ticks = xTicks.map(v => ({ value: v })); },
          grid: { display: false, drawTicks: false },
          border: { display: false },
          ticks: { color: '#111', padding: 2, maxRotation: 0, font: { family: FONT, size: 19, lineHeight: 1 } }
        },
        y: {
          type: 'linear', min: yTicks[0], max: yTicks[yTicks.length - 1],
          afterFit: s => { s.width = 40; },
          afterBuildTicks: s => { s.ticks = yTicks.map(v => ({ value: v })); },
          grid: { display: false, drawTicks: false },
          border: { display: false },
          ticks: { color: '#111', padding: 3, font: { family: FONT, size: 19, lineHeight: 1 } }
        }
      },
      plugins: { legend: { display: false }, tooltip: { enabled: false }, panel: extra }
    },
    plugins: [panelDecor]
  });
}

const note = (a, b, x, y, ax, y1, y2) => ({ t: [[a, ''], [b, 'i']], x, y, ax, y1, y2 });

makePanel('pa', [55, 11, 470, 302], yTicksA,
  [series(aGgaSp, 'sp'), series(aGgaD, 'd'), series(aHseSp, 'ysp'), series(aHseD, 'rd')],
  { letter: '(a)', legend: true, notes: [
    note('O 2', 's', -20.0, 0.57, -20.0, 0.44, 0.13),
    note('O 2', 'p', -5.43, 0.87, -5.35, 0.69, 0.155),
    note('Mn 3', 'd', -2.45, 0.57, -1.7, 0.43, 0.07),
    note('Mn 3', 'd', 2.47, 2.42, 2.65, 2.29, 1.96)
  ] });

makePanel('pb', [55, 386, 467, 605], yTicksBCD,
  [series(bHseSp, 'ysp'), series(bHseD, 'rd')],
  { letter: '(b)', notes: [
    note('O 2', 's', -20.53, 0.66, -20.6, 0.49, 0.16),
    note('Fe 3', 'd', -3.74, 1.04, -3.6, 0.88, 0.51),
    note('O 2', 'p', -5.29, -0.69, -5.3, -0.55, -0.25),
    note('Fe 3', 'd', 2.0, 1.79, 1.8, 1.63, 1.30)
  ] });

makePanel('pc', [541, 40, 954, 259], yTicksBCD,
  [series(cHseSp, 'ysp'), series(cHseD, 'rd')],
  { letter: '(c)', notes: [
    note('O 2', 's', -20.16, 0.64, -20.1, 0.47, 0.15),
    note('Co 3', 'd', -3.6, 1.05, -3.4, 0.86, 0.49),
    note('O 2', 'p', -4.95, -0.69, -4.9, -0.56, -0.26),
    note('Co 3', 'd', 2.21, 1.78, 1.55, 1.66, 1.31)
  ] });

makePanel('pd', [538, 379, 952, 600], yTicksBCD,
  [series(dGgaSp, 'sp'), series(dGgaD, 'd'), series(dHseSp, 'ysp'), series(dHseD, 'rd')],
  { letter: '(d)', notes: [
    note('O 2', 's', -19.69, 0.64, -19.8, 0.48, 0.18),
    note('Ni 3', 'd', -2.87, 1.32, -2.2, 1.17, 0.90),
    note('O 2', 'p', -5.0, -0.70, -4.9, -0.57, -0.27),
    note('Ni 3', 'd', 2.05, 1.77, 0.5, 1.65, 1.38)
  ] });
</script>
</body>
</html>
